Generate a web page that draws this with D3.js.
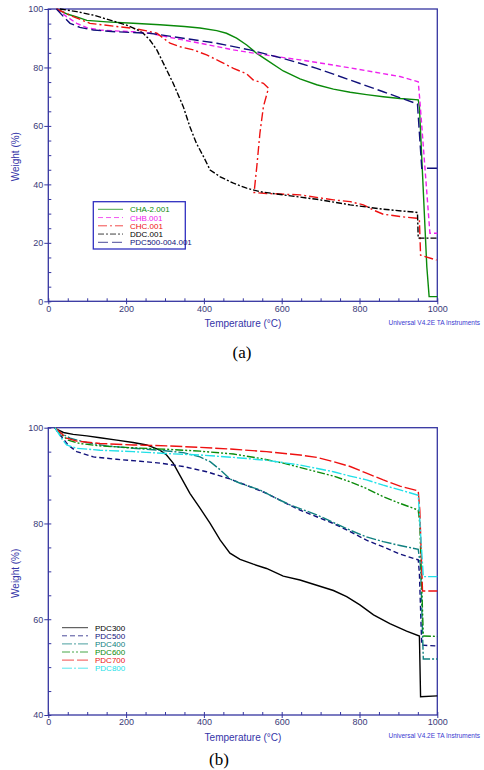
<!DOCTYPE html>
<html>
<head>
<meta charset="utf-8">
<script src="https://cdn.jsdelivr.net/npm/d3@7"></script>
<style>
  body { margin: 0; background: #fff; }
  svg { display: block; font-family: "Liberation Sans", Arial, sans-serif; }
</style>
</head>
<body>
<script>
// tick values
const xTicks = [0, 200, 400, 600, 800, 1000];
const yTicksA = [0, 20, 40, 60, 80, 100];
const yTicksB = [40, 60, 80, 100];

// panel (a) series: [temperature, weight]
const cha2 = [[21,100],[50,98.2],[73,97.3],[99,96.1],[150,95.6],[218,95.1],[287,94.6],[350,94.0],[390,93.5],[433,92.6],[458,91.7],[484,90.0],[510,87.7],[536,84.8],[561,82.6],[604,78.8],[647,76.1],[690,74.1],[733,72.6],[776,71.5],[818,70.7],[861,70.0],[904,69.4],[951,68.9],[954,66.6],[973,11.9],[979,1.6],[1000,1.6]];
const chb = [[21,100],[47,97.4],[73,95.1],[99,93.6],[133,92.8],[218,92.2],[261,91.7],[304,90.5],[390,88.3],[476,86.0],[561,84.2],[647,82.6],[733,80.8],[818,78.9],[904,76.9],[951,75.1],[955,68.9],[968,46.1],[981,23.3],[1000,23.3]];
const chc = [[21,100],[64,97.4],[107,95.1],[176,94.0],[218,93.4],[253,92.5],[279,91.7],[296,90.0],[313,88.3],[338,87.1],[373,86.0],[407,84.3],[442,82.0],[476,79.7],[510,77.8],[527,75.7],[553,74.6],[566,72.9],[553,66.6],[544,57.5],[536,46.1],[529,37.2],[561,36.9],[647,36.4],[733,34.7],[776,34.1],[810,33.0],[836,31.2],[861,29.8],[904,29.0],[947,28.4],[954,27.8],[957,15.8],[998,14.1]];
const ddc = [[30,100],[73,99.1],[116,97.9],[159,96.2],[201,94.5],[227,93.0],[244,91.7],[261,89.4],[279,86.0],[296,81.4],[321,74.6],[347,66.6],[364,59.7],[381,54.0],[399,49.5],[416,44.9],[442,42.6],[476,40.4],[510,38.7],[544,37.5],[604,36.4],[690,34.9],[776,33.0],[861,31.5],[949,30.4],[951,21.6],[1000,21.6]];
const pdc500004 = [[21,100],[39,97.4],[56,95.1],[81,93.7],[116,92.8],[176,92.2],[261,91.7],[347,90.0],[433,88.3],[518,86.0],[604,83.1],[690,79.7],[776,75.7],[861,71.7],[949,67.5],[960,45.5],[1000,45.5]];

// panel (b) series
const pdc300 = [[17,100],[21,99.7],[39,99.0],[64,98.6],[99,98.3],[133,97.9],[176,97.4],[218,96.9],[253,96.4],[287,95.3],[304,94.3],[321,92.6],[338,90.1],[364,86.3],[390,83.2],[416,80.0],[442,76.5],[467,73.8],[493,72.5],[527,71.5],[561,70.6],[604,69.0],[647,68.2],[690,67.1],[733,66.0],[767,64.7],[801,63.0],[836,60.9],[878,59.1],[921,57.5],[954,56.5],[957,43.8],[1000,44.0]];
const pdc500 = [[17,100],[25,99.0],[34,98.1],[51,96.4],[73,95.0],[116,93.9],[176,93.4],[236,93.0],[287,92.6],[347,91.9],[407,90.8],[467,89.3],[518,87.7],[561,86.3],[604,84.5],[647,82.8],[690,81.4],[733,80.0],[776,78.3],[818,76.5],[861,75.1],[904,73.6],[951,72.4],[954,69.6],[960,54.6],[1000,54.4]];
const pdc400 = [[17,100],[34,98.8],[56,97.8],[99,96.9],[150,96.2],[218,95.7],[287,95.3],[347,94.8],[390,93.9],[416,92.9],[442,91.2],[467,89.3],[493,88.4],[544,87.0],[587,85.2],[621,83.9],[690,81.8],[733,80.2],[776,78.6],[818,77.2],[861,76.2],[904,75.4],[951,74.6],[957,71.0],[964,51.7],[1000,51.7]];
const pdc600 = [[17,100],[34,98.5],[51,97.4],[81,96.7],[133,96.2],[218,95.8],[304,95.5],[390,95.1],[476,94.5],[544,93.6],[604,92.6],[690,90.8],[733,89.9],[776,88.7],[818,87.3],[861,85.6],[904,84.2],[951,82.8],[955,80.0],[964,56.5],[1000,56.4]];
const pdc700 = [[17,100],[34,98.8],[47,97.8],[73,97.2],[133,96.7],[218,96.4],[304,96.2],[390,95.9],[476,95.5],[561,95.0],[647,94.3],[690,93.8],[733,92.9],[776,91.9],[818,90.5],[861,89.1],[904,87.8],[951,86.8],[955,82.8],[962,65.9],[1000,65.9]];
const pdc800 = [[17,100],[34,97.8],[47,96.4],[73,95.7],[133,95.3],[218,95.0],[304,94.6],[390,94.3],[476,93.8],[561,93.2],[647,92.2],[733,90.8],[776,89.9],[818,89.1],[861,88.0],[904,87.0],[951,85.9],[957,77.9],[964,68.9],[1000,68.9]];

const seriesA = [
  { name: "CHA-2.001", data: cha2, color: "#0a8a0a", dash: null },
  { name: "CHB.001", data: chb, color: "#ee22ee", dash: "5,3" },
  { name: "CHC.001", data: chc, color: "#ee1111", dash: "9,3,2,3" },
  { name: "DDC.001", data: ddc, color: "#000000", dash: "6,2,2,2" },
  { name: "PDC500-004.001", data: pdc500004, color: "#10107a", dash: "10,4" }
];
const seriesB = [
  { name: "PDC300", data: pdc300, color: "#000000", dash: null },
  { name: "PDC500", data: pdc500, color: "#10107a", dash: "5,3" },
  { name: "PDC400", data: pdc400, color: "#108080", dash: "10,2,2,2" },
  { name: "PDC600", data: pdc600, color: "#0a8a0a", dash: "8,2,2,2,2,2" },
  { name: "PDC700", data: pdc700, color: "#ee1111", dash: "12,3" },
  { name: "PDC800", data: pdc800, color: "#22e0e8", dash: "10,2,2,2" }
];

const axisColor = "#3535a0";
const labelColor = "#3a3a78";

const svg = d3.select("body").append("svg").attr("width", 484).attr("height", 770);

function drawPanel(opt) {
  const left = 48.3, right = 437.3;
  const g = svg.append("g");
  const x = d3.scaleLinear().domain([0, 1000]).range([left, right]);
  const y = d3.scaleLinear().domain(opt.yDomain).range([opt.bottom, opt.top]);

  // frame
  g.append("rect")
    .attr("x", left).attr("y", opt.top)
    .attr("width", right - left).attr("height", opt.bottom - opt.top)
    .attr("fill", "none").attr("stroke", axisColor).attr("stroke-width", 1.3);

  // minor ticks (inside)
  g.append("g")
    .attr("transform", "translate(0," + opt.bottom + ")")
    .call(d3.axisTop(x).tickValues(d3.range(0, 1001, 50)).tickSize(3).tickFormat(""))
    .call(a => a.select(".domain").remove())
    .call(a => a.selectAll("line").attr("stroke", axisColor));
  g.append("g")
    .attr("transform", "translate(" + left + ",0)")
    .call(d3.axisRight(y).tickValues(d3.range(opt.yDomain[0], opt.yDomain[1] + 1, 5)).tickSize(3).tickFormat(""))
    .call(a => a.select(".domain").remove())
    .call(a => a.selectAll("line").attr("stroke", axisColor));

  // major ticks + labels
  const xa = g.append("g")
    .attr("transform", "translate(0," + opt.bottom + ")")
    .call(d3.axisBottom(x).tickValues(xTicks).tickFormat(d => String(d)).tickSize(3).tickPadding(1));
  const ya = g.append("g")
    .attr("transform", "translate(" + left + ",0)")
    .call(d3.axisLeft(y).tickValues(opt.yTicks).tickFormat(d => String(d)).tickSize(4).tickPadding(1));
  [xa, ya].forEach(a => {
    a.select(".domain").remove();
    a.selectAll("line").attr("stroke", axisColor);
    a.selectAll("text").attr("fill", labelColor).style("font-size", "9px")
      .style("font-family", "'Liberation Sans', Arial, sans-serif");
  });

  // curves
  const line = d3.line().x(d => x(d[0])).y(d => y(d[1]));
  const clip = "clip" + opt.id;
  g.append("clipPath").attr("id", clip).append("rect")
    .attr("x", left).attr("y", opt.top - 1).attr("width", right - left + 1).attr("height", opt.bottom - opt.top + 1);
  g.append("g").attr("clip-path", "url(#" + clip + ")")
    .selectAll("path").data(opt.series).join("path")
    .attr("d", d => line(d.data))
    .attr("fill", "none")
    .attr("stroke", d => d.color)
    .attr("stroke-width", 1.4)
    .attr("stroke-dasharray", d => d.dash);

  // legend
  const lg = g.append("g");
  if (opt.legendBox) {
    lg.append("rect").attr("x", opt.legendBox[0]).attr("y", opt.legendBox[1])
      .attr("width", opt.legendBox[2]).attr("height", opt.legendBox[3])
      .attr("fill", "#fff").attr("stroke", "#3030c0").attr("stroke-width", 1.3);
  }
  opt.series.forEach((s, i) => {
    const ly = opt.legendY + i * opt.legendStep;
    lg.append("line").attr("x1", opt.legendX[0]).attr("x2", opt.legendX[1])
      .attr("y1", ly).attr("y2", ly)
      .attr("stroke", s.color).attr("stroke-width", 1).attr("stroke-dasharray", s.dash).attr("opacity", 0.75);
    lg.append("text").attr("x", opt.legendX[2]).attr("y", ly + 3)
      .attr("fill", s.color).style("font-size", "8px").text(s.name);
  });

  // titles
  g.append("text").attr("x", 243).attr("y", opt.bottom + 25.5)
    .attr("text-anchor", "middle").attr("fill", "#3535a8").style("font-size", "10px")
    .text("Temperature (°C)");
  g.append("text").attr("transform", "translate(19," + opt.yTitle + ") rotate(-90)")
    .attr("text-anchor", "middle").attr("fill", "#3535a8").style("font-size", "10px")
    .text("Weight (%)");
  g.append("text").attr("x", 480).attr("y", opt.bottom + opt.univ)
    .attr("text-anchor", "end")
    .attr("fill", "#3a3ad0").style("font-size", "6.5px")
    .text("Universal V4.2E TA Instruments");
  g.append("text").attr("x", opt.panelX).attr("y", opt.panelY)
    .attr("text-anchor", "middle").attr("fill", "#000")
    .style("font-family", "'Liberation Serif', 'Times New Roman', serif").style("font-size", "17px")
    .text(opt.label);
}

drawPanel({
  id: "a", top: 9, bottom: 301.3, yDomain: [0, 100], yTicks: yTicksA, series: seriesA,
  legendBox: [93.3, 201.7, 92, 47.3], legendY: 209.3, legendStep: 8.25, legendX: [98, 123, 130],
  yTitle: 156.7, univ: 23.5, panelX: 242, panelY: 358, label: "(a)"
});
drawPanel({
  id: "b", top: 427.7, bottom: 715, yDomain: [40, 100], yTicks: yTicksB, series: seriesB,
  legendBox: null, legendY: 627.7, legendStep: 8.1, legendX: [62, 88, 95],
  yTitle: 573.3, univ: 23, panelX: 219, panelY: 765, label: "(b)"
});
</script>
</body>
</html>
